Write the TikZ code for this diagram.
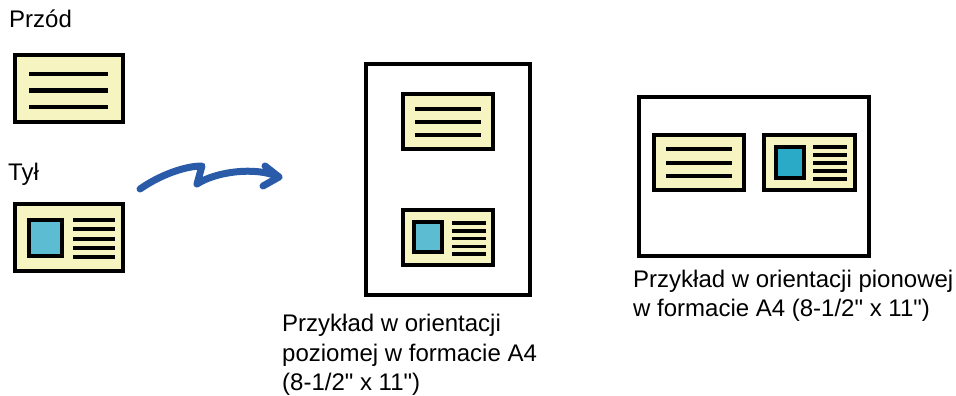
\documentclass[tikz,border=0pt]{standalone}
\usepackage{fontspec}
\setmainfont{Liberation Sans}
\definecolor{cardyellow}{HTML}{F6F4C0}
\definecolor{photoA}{HTML}{5BBCD2}
\definecolor{photoB}{HTML}{2AAAC6}
\definecolor{arrowblue}{HTML}{2A5BA8}
\newcommand{\dq}{\textquotedbl}
\begin{document}
\begin{tikzpicture}[x=1pt,y=-1pt,
  card/.style={draw=black,line width=4pt,fill=cardyellow},
  page/.style={draw=black,line width=4pt,fill=white},
  photo/.style={draw=black,line width=4pt},
  tline/.style={draw=black,line width=4pt},
  sline/.style={draw=black,line width=3.5pt},
  caption/.style={inner sep=0pt,anchor=base west,align=left,
    font=\fontsize{24}{29.5}\selectfont},
  bluearrow/.style={draw=arrowblue,line width=7pt,line cap=round,line join=round}]
\useasboundingbox (0,0) rectangle (956,396);

% ---- left: front card
\node[caption] (przod) at (9,28) {Przód};
\draw[card] (15,55) rectangle (123,122);
\draw[tline] (29,74) -- (108,74) (29,90.5) -- (108,90.5) (29,107) -- (108,107);

% ---- left: back card
\node[caption] (tyl) at (8,180) {Tył};
\draw[card] (15,204) rectangle (123,271);
\draw[photo,fill=photoA] (29,220) rectangle (62,256);
\draw[tline] (73,220) -- (115,220) (73,229.3) -- (115,229.3) (73,238.5) -- (115,238.5)
  (73,247.8) -- (115,247.8) (73,257) -- (115,257);

% ---- arrow
\coordinate (astart) at (140,189);
\coordinate (apeak) at (202,166);
\coordinate (avalley) at (197,184);
\coordinate (atip) at (279,177);
\draw[bluearrow] (astart) .. controls (160,175) and (185,166) .. (apeak) -- (avalley)
  .. controls (215,172) and (255,166) .. (atip);
\draw[bluearrow] (265,166) -- (atip) -- (263,186);

% ---- middle page (portrait)
\draw[page] (366,64) rectangle (530,295);
\draw[card] (403,94) rectangle (493,149);
\draw[tline] (415,109) -- (481,109) (415,122) -- (481,122) (415,135) -- (481,135);
\draw[card] (403,210) rectangle (493,265);
\draw[photo,fill=photoA] (414,222) rectangle (442,252);
\draw[sline] (452,223) -- (486,223) (452,230.8) -- (486,230.8) (452,238.5) -- (486,238.5)
  (452,246.3) -- (486,246.3) (452,254) -- (486,254);
\node[caption] (capmid) at (282,390.5) {Przykład w orientacji\\poziomej w formacie A4\\(8-1/2\dq{} x 11\dq)};

% ---- right page (landscape)
\draw[page] (639,97) rectangle (869,256);
\draw[card] (654,135) rectangle (744,190);
\draw[tline] (666,149) -- (732,149) (666,162.5) -- (732,162.5) (666,176) -- (732,176);
\draw[card] (764,135) rectangle (855,190);
\draw[photo,fill=photoB] (776,147) rectangle (804,178);
\draw[sline] (813,147) -- (847,147) (813,155) -- (847,155) (813,163) -- (847,163)
  (813,171) -- (847,171) (813,179) -- (847,179);
\node[caption] (capright) at (633,316.5) {Przykład w orientacji pionowej\\w formacie A4 (8-1/2\dq{} x 11\dq)};
\end{tikzpicture}
\end{document}
